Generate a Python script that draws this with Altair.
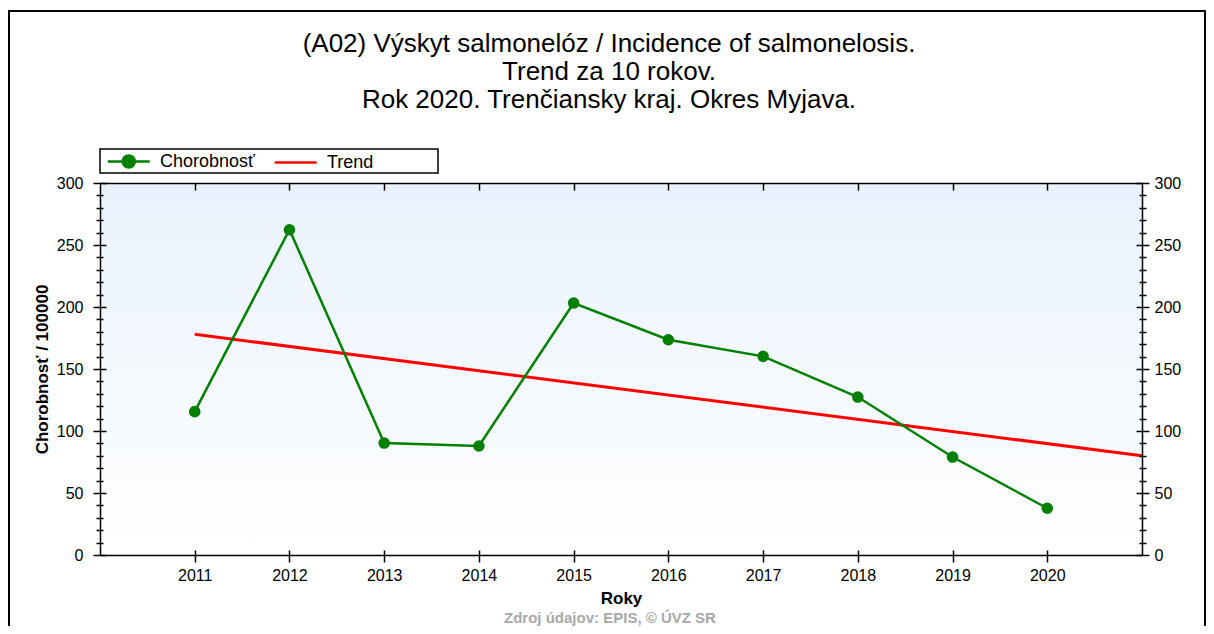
import altair as alt
import pandas as pd

# ---- data ----
years = [2011, 2012, 2013, 2014, 2015, 2016, 2017, 2018, 2019, 2020]
incidence = [115.6, 262.3, 90.3, 87.9, 203.2, 173.6, 160.2, 127.4, 79.0, 37.7]
trend_years = [2011, 2021]
trend_values = [178.0, 80.0]
series_names = ["Chorobnosť", "Trend"]
series_colors = ["#008000", "#ff0000"]
title_lines = [
    "(A02) Výskyt salmonelóz / Incidence of salmonelosis.",
    "Trend za 10 rokov.",
    "Rok 2020. Trenčiansky kraj. Okres Myjava.",
]
x_title = "Roky"
y_title = "Chorobnosť / 100000"
source_text = "Zdroj údajov: EPIS, © ÚVZ SR"
x_domain = [2010, 2021]
y_domain = [0, 300]
y_tick_values = list(range(0, 301, 10))

W, H = 1042, 372
FONT = "Liberation Sans"

df = pd.DataFrame({"year": years, "value": incidence, "series": series_names[0]})
tdf = pd.DataFrame({"year": trend_years, "value": trend_values, "series": series_names[1]})
one = pd.DataFrame({"k": [0]})

xs = alt.Scale(domain=x_domain, nice=False, zero=False)
ys = alt.Scale(domain=y_domain, nice=False, zero=True)

MAJOR = "datum.value % 50 === 0"


def ytick(major_len, minor_len):
    return {"condition": {"test": MAJOR, "value": major_len}, "value": minor_len}


common = dict(zindex=2, domainColor="black", tickColor="black", domainWidth=1.5,
              tickWidth=1.5, grid=False, labelFont=FONT, labelColor="black",
              titleFont=FONT, titleColor="black")

x_main = alt.Axis(orient="bottom", values=years, format="d", tickSize=7, labelFontSize=16,
                  labelPadding=5, title=x_title, titleFontSize=17, titleFontWeight="bold",
                  titlePadding=7, domain=True, **common)
x_top = alt.Axis(orient="bottom", offset=-H, values=years, tickSize=7, labels=False,
                 title="", domain=True, **common)
x_in_bottom = alt.Axis(orient="top", offset=-H, values=years, tickSize=5, labels=False,
                       title="", domain=False, **common)

y_left = alt.Axis(orient="left", values=y_tick_values, labelExpr=f"{MAJOR} ? datum.label : ''",
                  tickSize=ytick(7, 4), labelFontSize=16, labelPadding=10, title=y_title,
                  titleFontSize=17, titleFontWeight="bold", titlePadding=5, domain=True, **common)
y_right = alt.Axis(orient="right", values=y_tick_values, labelExpr=f"{MAJOR} ? datum.label : ''",
                   tickSize=ytick(7, 4), labelFontSize=16, labelPadding=5, title="",
                   domain=True, **common)
y_right_in = alt.Axis(orient="left", offset=-W, values=y_tick_values, labels=False,
                      tickSize=ytick(6, 3), title="", domain=False, **common)
y_left_in = alt.Axis(orient="right", offset=-W, values=y_tick_values, labels=False,
                     tickSize=ytick(6, 3), title="", domain=False, **common)

gradient = {"gradient": "linear", "x1": 0, "y1": 0, "x2": 0, "y2": 1,
            "stops": [{"offset": 0, "color": "#e8f2fc"}, {"offset": 1, "color": "#ffffff"}]}

bg = alt.Chart(one).mark_rect(fill=gradient).encode(
    x=alt.value(0), x2=alt.value(W), y=alt.value(0), y2=alt.value(H))

trend = alt.Chart(tdf).mark_line(color=series_colors[1], strokeWidth=3).encode(
    x=alt.X("year:Q", scale=xs, axis=x_main),
    y=alt.Y("value:Q", scale=ys, axis=y_left))

line = alt.Chart(df).mark_line(color=series_colors[0], strokeWidth=2.5).encode(
    x=alt.X("year:Q", scale=xs, axis=x_top),
    y=alt.Y("value:Q", scale=ys, axis=y_right))

pts = alt.Chart(df).mark_point(filled=True, color=series_colors[0], size=135, opacity=1).encode(
    x=alt.X("year:Q", scale=xs, axis=x_in_bottom),
    y=alt.Y("value:Q", scale=ys, axis=y_right_in))

dot_path = "M-1.25,0L7.15,0M4.15,0A1.2,1.2,0,1,1,1.75,0A1.2,1.2,0,1,1,4.15,0Z"
line_path = "M-1.25,0L7.15,0"

leg = alt.Legend(orient="none", legendX=0, legendY=-36, direction="horizontal", title=None,
                 padding=5, labelFont=FONT,
                 labelFontSize=18, labelColor="black", symbolSize=100, symbolStrokeWidth=2.5,
                 labelOffset=37, columnPadding=14, labelLimit=400)

# legend frame box
legend_box = alt.Chart(one).mark_rect(fill="white", stroke="black", strokeWidth=1.5).encode(
    x=alt.value(0), x2=alt.value(338), y=alt.value(-34), y2=alt.value(-10))

legend_layer = alt.Chart(df).transform_filter("false").mark_point(
    filled=True, opacity=1, strokeWidth=2.5).encode(
    x=alt.X("year:Q", scale=xs, axis=None),
    y=alt.Y("value:Q", scale=ys, axis=y_left_in),
    fill=alt.Fill("series:N", scale=alt.Scale(domain=series_names, range=series_colors), legend=leg),
    stroke=alt.Stroke("series:N", scale=alt.Scale(domain=series_names, range=series_colors), legend=leg),
    shape=alt.Shape("series:N", scale=alt.Scale(domain=series_names, range=[dot_path, line_path]), legend=leg),
)

title_txt = alt.Chart(one).mark_text(font=FONT, fontSize=26, lineHeight=28, align="center",
                                     baseline="middle", color="black").encode(
    x=alt.value(509), y=alt.value(-139), text=alt.value(title_lines))

src_txt = alt.Chart(one).mark_text(font=FONT, fontSize=15, fontWeight="bold", align="center",
                                   baseline="top", color="#a8a8a8").encode(
    x=alt.value(510), y=alt.value(428), text=alt.value(source_text))

frame = alt.Chart(one).mark_rect(fillOpacity=0, stroke="black", strokeWidth=2).encode(
    x=alt.value(-91), x2=alt.value(1105), y=alt.value(-172), y2=alt.value(470))

chart = alt.layer(bg, legend_box, trend, line, pts, legend_layer, title_txt, src_txt, frame).resolve_scale(
    x="independent", y="independent"
).properties(
    width=W, height=H,
    padding={"left": 92, "top": 175, "right": 64, "bottom": 71},
    autosize=alt.AutoSizeParams(type="none"),
    background="white",
).configure_view(strokeWidth=0)

chart.save("out.html", embed_options={"renderer": "svg", "actions": False})
